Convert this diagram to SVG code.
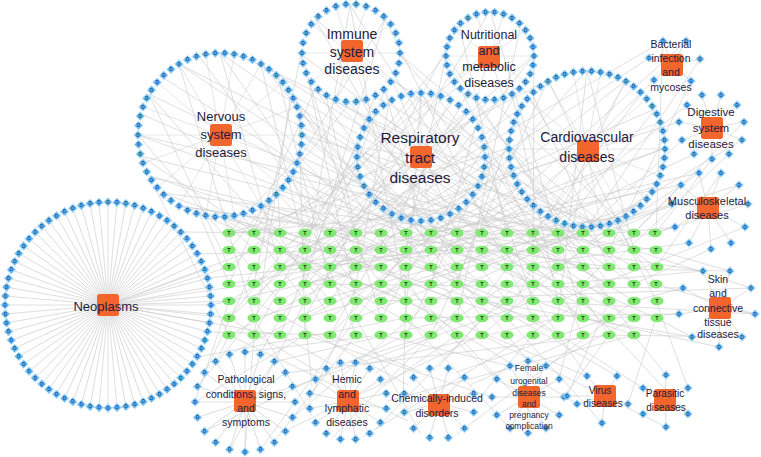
<svg xmlns="http://www.w3.org/2000/svg" width="761" height="457" viewBox="0 0 761 457">
<style>
.e{stroke:#cacaca;stroke-width:0.6;fill:none}
.e2{stroke:#d6d6d6;stroke-width:0.55;fill:none}
.hub{fill:#f2662d}
.lbl{font-family:"Liberation Sans",Arial,sans-serif;fill:#1d1b3d;text-anchor:middle}
.gl{font-family:"Liberation Sans",Arial,sans-serif;text-anchor:middle}
</style>
<defs>
<g id="dn"><path d="M0-4.3 4.3 0 0 4.3-4.3 0Z" fill="#63b5ed" stroke="#b6ddf8" stroke-width="0.9"/><text class="gl" y="1.7" font-size="4.8" font-weight="bold" fill="#1d5a9a">D</text></g>
<g id="tn"><ellipse rx="6.6" ry="4.2" fill="#80e872"/><text class="gl" y="2" font-size="5.5" font-weight="bold" fill="#1c3a14">T</text></g>
<path id="s103" d="M0 0H103"/>
<path id="s82" d="M0 0H82"/>
<path id="s78" d="M0 0H78"/>
<path id="s64" d="M0 0H64"/>
<path id="s49" d="M0 0H49"/>
<path id="s44" d="M0 0H44"/>
<path id="s50" d="M0 0H50"/>
<path id="s39" d="M0 0H39"/>
<path id="s36" d="M0 0H36"/>
</defs>
<rect width="761" height="457" fill="#ffffff"/>
<g id="connectors">
<g class="e" transform="translate(108 305)"><use href="#s103" transform="rotate(0)"/><use href="#s103" transform="rotate(5)"/><use href="#s103" transform="rotate(10)"/><use href="#s103" transform="rotate(15)"/><use href="#s103" transform="rotate(20)"/><use href="#s103" transform="rotate(25)"/><use href="#s103" transform="rotate(30)"/><use href="#s103" transform="rotate(35)"/><use href="#s103" transform="rotate(40)"/><use href="#s103" transform="rotate(45)"/><use href="#s103" transform="rotate(50)"/><use href="#s103" transform="rotate(55)"/><use href="#s103" transform="rotate(60)"/><use href="#s103" transform="rotate(65)"/><use href="#s103" transform="rotate(70)"/><use href="#s103" transform="rotate(75)"/><use href="#s103" transform="rotate(80)"/><use href="#s103" transform="rotate(85)"/><use href="#s103" transform="rotate(90)"/><use href="#s103" transform="rotate(95)"/><use href="#s103" transform="rotate(100)"/><use href="#s103" transform="rotate(105)"/><use href="#s103" transform="rotate(110)"/><use href="#s103" transform="rotate(115)"/><use href="#s103" transform="rotate(120)"/><use href="#s103" transform="rotate(125)"/><use href="#s103" transform="rotate(130)"/><use href="#s103" transform="rotate(135)"/><use href="#s103" transform="rotate(140)"/><use href="#s103" transform="rotate(145)"/><use href="#s103" transform="rotate(150)"/><use href="#s103" transform="rotate(155)"/><use href="#s103" transform="rotate(160)"/><use href="#s103" transform="rotate(165)"/><use href="#s103" transform="rotate(170)"/><use href="#s103" transform="rotate(175)"/><use href="#s103" transform="rotate(180)"/><use href="#s103" transform="rotate(185)"/><use href="#s103" transform="rotate(190)"/><use href="#s103" transform="rotate(195)"/><use href="#s103" transform="rotate(200)"/><use href="#s103" transform="rotate(205)"/><use href="#s103" transform="rotate(210)"/><use href="#s103" transform="rotate(215)"/><use href="#s103" transform="rotate(220)"/><use href="#s103" transform="rotate(225)"/><use href="#s103" transform="rotate(230)"/><use href="#s103" transform="rotate(235)"/><use href="#s103" transform="rotate(240)"/><use href="#s103" transform="rotate(245)"/><use href="#s103" transform="rotate(250)"/><use href="#s103" transform="rotate(255)"/><use href="#s103" transform="rotate(260)"/><use href="#s103" transform="rotate(265)"/><use href="#s103" transform="rotate(270)"/><use href="#s103" transform="rotate(275)"/><use href="#s103" transform="rotate(280)"/><use href="#s103" transform="rotate(285)"/><use href="#s103" transform="rotate(290)"/><use href="#s103" transform="rotate(295)"/><use href="#s103" transform="rotate(300)"/><use href="#s103" transform="rotate(305)"/><use href="#s103" transform="rotate(310)"/><use href="#s103" transform="rotate(315)"/><use href="#s103" transform="rotate(320)"/><use href="#s103" transform="rotate(325)"/><use href="#s103" transform="rotate(330)"/><use href="#s103" transform="rotate(335)"/><use href="#s103" transform="rotate(340)"/><use href="#s103" transform="rotate(345)"/><use href="#s103" transform="rotate(350)"/><use href="#s103" transform="rotate(355)"/></g>
<g class="e2" transform="translate(220 135)"><use href="#s82" transform="rotate(0)"/><use href="#s82" transform="rotate(20)"/><use href="#s82" transform="rotate(40)"/><use href="#s82" transform="rotate(60)"/><use href="#s82" transform="rotate(80)"/><use href="#s82" transform="rotate(100)"/><use href="#s82" transform="rotate(120)"/><use href="#s82" transform="rotate(140)"/><use href="#s82" transform="rotate(160)"/><use href="#s82" transform="rotate(180)"/><use href="#s82" transform="rotate(200)"/><use href="#s82" transform="rotate(220)"/><use href="#s82" transform="rotate(240)"/><use href="#s82" transform="rotate(260)"/><use href="#s82" transform="rotate(280)"/><use href="#s82" transform="rotate(300)"/><use href="#s82" transform="rotate(320)"/><use href="#s82" transform="rotate(340)"/></g>
<g class="e2" transform="translate(587 149)"><use href="#s78" transform="rotate(0)"/><use href="#s78" transform="rotate(20)"/><use href="#s78" transform="rotate(40)"/><use href="#s78" transform="rotate(60)"/><use href="#s78" transform="rotate(80)"/><use href="#s78" transform="rotate(100)"/><use href="#s78" transform="rotate(120)"/><use href="#s78" transform="rotate(140)"/><use href="#s78" transform="rotate(160)"/><use href="#s78" transform="rotate(180)"/><use href="#s78" transform="rotate(200)"/><use href="#s78" transform="rotate(220)"/><use href="#s78" transform="rotate(240)"/><use href="#s78" transform="rotate(260)"/><use href="#s78" transform="rotate(280)"/><use href="#s78" transform="rotate(300)"/><use href="#s78" transform="rotate(320)"/><use href="#s78" transform="rotate(340)"/></g>
<g class="e2" transform="translate(421 157)"><use href="#s64" transform="rotate(0)"/><use href="#s64" transform="rotate(27)"/><use href="#s64" transform="rotate(54)"/><use href="#s64" transform="rotate(81)"/><use href="#s64" transform="rotate(108)"/><use href="#s64" transform="rotate(135)"/><use href="#s64" transform="rotate(162)"/><use href="#s64" transform="rotate(189)"/><use href="#s64" transform="rotate(216)"/><use href="#s64" transform="rotate(243)"/><use href="#s64" transform="rotate(270)"/><use href="#s64" transform="rotate(297)"/><use href="#s64" transform="rotate(324)"/></g>
<g class="e2" transform="translate(351 53)"><use href="#s49" transform="rotate(0)"/><use href="#s49" transform="rotate(36)"/><use href="#s49" transform="rotate(72)"/><use href="#s49" transform="rotate(108)"/><use href="#s49" transform="rotate(144)"/><use href="#s49" transform="rotate(180)"/><use href="#s49" transform="rotate(216)"/><use href="#s49" transform="rotate(252)"/><use href="#s49" transform="rotate(288)"/><use href="#s49" transform="rotate(324)"/></g>
<g class="e2" transform="translate(490 56)"><use href="#s44" transform="rotate(0)"/><use href="#s44" transform="rotate(36)"/><use href="#s44" transform="rotate(72)"/><use href="#s44" transform="rotate(108)"/><use href="#s44" transform="rotate(144)"/><use href="#s44" transform="rotate(180)"/><use href="#s44" transform="rotate(216)"/><use href="#s44" transform="rotate(252)"/><use href="#s44" transform="rotate(288)"/><use href="#s44" transform="rotate(324)"/></g>
<g class="e" transform="translate(245 402)"><use href="#s50" transform="rotate(0)"/><use href="#s50" transform="rotate(18)"/><use href="#s50" transform="rotate(36)"/><use href="#s50" transform="rotate(54)"/><use href="#s50" transform="rotate(72)"/><use href="#s50" transform="rotate(90)"/><use href="#s50" transform="rotate(108)"/><use href="#s50" transform="rotate(126)"/><use href="#s50" transform="rotate(144)"/><use href="#s50" transform="rotate(162)"/><use href="#s50" transform="rotate(180)"/><use href="#s50" transform="rotate(198)"/><use href="#s50" transform="rotate(216)"/><use href="#s50" transform="rotate(234)"/><use href="#s50" transform="rotate(252)"/><use href="#s50" transform="rotate(270)"/><use href="#s50" transform="rotate(288)"/><use href="#s50" transform="rotate(306)"/><use href="#s50" transform="rotate(324)"/><use href="#s50" transform="rotate(342)"/></g>
<g class="e" transform="translate(348 401)"><use href="#s39" transform="rotate(11.25)"/><use href="#s39" transform="rotate(33.75)"/><use href="#s39" transform="rotate(56.25)"/><use href="#s39" transform="rotate(78.75)"/><use href="#s39" transform="rotate(101.25)"/><use href="#s39" transform="rotate(123.75)"/><use href="#s39" transform="rotate(146.25)"/><use href="#s39" transform="rotate(168.75)"/><use href="#s39" transform="rotate(191.25)"/><use href="#s39" transform="rotate(213.75)"/><use href="#s39" transform="rotate(236.25)"/><use href="#s39" transform="rotate(258.75)"/><use href="#s39" transform="rotate(281.25)"/><use href="#s39" transform="rotate(303.75)"/><use href="#s39" transform="rotate(326.25)"/><use href="#s39" transform="rotate(348.75)"/></g>
<g class="e" transform="translate(439 403)"><use href="#s36" transform="rotate(15)"/><use href="#s36" transform="rotate(45)"/><use href="#s36" transform="rotate(75)"/><use href="#s36" transform="rotate(105)"/><use href="#s36" transform="rotate(135)"/><use href="#s36" transform="rotate(165)"/><use href="#s36" transform="rotate(195)"/><use href="#s36" transform="rotate(225)"/><use href="#s36" transform="rotate(255)"/><use href="#s36" transform="rotate(285)"/><use href="#s36" transform="rotate(315)"/><use href="#s36" transform="rotate(345)"/></g>
<g class="e" transform="translate(528 397)"><use href="#s36" transform="rotate(0)"/><use href="#s36" transform="rotate(30)"/><use href="#s36" transform="rotate(60)"/><use href="#s36" transform="rotate(90)"/><use href="#s36" transform="rotate(120)"/><use href="#s36" transform="rotate(150)"/><use href="#s36" transform="rotate(180)"/><use href="#s36" transform="rotate(210)"/><use href="#s36" transform="rotate(240)"/><use href="#s36" transform="rotate(270)"/><use href="#s36" transform="rotate(300)"/><use href="#s36" transform="rotate(330)"/></g>
<path class="e" d="M672 65L663 41M672 65L686 41M672 65L649 58M672 65L700 59M672 65L654 80M672 65L691 81M712 128L702 95M712 128L721 95M712 128L737 105M712 128L744 122M712 128L742 140M712 128L729 154M712 128L712 159M712 128L694 154M712 128L682 140M712 128L679 122M712 128L687 105M708 208L699 173M708 208L721 173M708 208L681 185M708 208L739 185M708 208L672 204M708 208L748 204M708 208L675 227M708 208L745 227M708 208L689 243M708 208L711 249M708 208L731 243M720 308L703 271M720 308L730 271M720 308L683 288M720 308L751 288M720 308L679 314M720 308L755 314M720 308L692 337M720 308L742 337M720 308L719 347M605 396L587 376M605 396L617 376M605 396L628 404M605 396L602 423M605 396L577 404M605 396L567 396M665 400L666 375M665 400L688 388M665 400L688 414M665 400L666 427M665 400L643 414M665 400L643 388"/>
<path class="e" d="M302 135L482 284M291 176L583 250M261 206L330 318M220 217L431 335M179 206L356 233M149 176L507 267M138 135L280 301M149 94L609 318M179 64L457 250M220 53L381 284M261 64L533 233M291 94L634 301M278 193L558 335M299 156L406 267M299 114L305 335M278 77L482 335M149 94L229 267M179 64L254 318M220 53L583 301M261 64L305 250M291 94L431 318M302 135L634 233M149 176L229 335M138 135L406 233M179 206L609 267M220 217L254 250M261 206L507 301M291 176L356 335M278 77L330 284M299 114L558 284M299 156L656 318M278 193L280 233M241 214L457 301M199 214L229 284M141 156L381 318M141 114L533 284M162 77L431 250M199 56L356 267M241 56L609 233M162 193L482 233M302 135L583 318M291 176L457 335M261 206L634 335M220 217L533 318M179 206L482 284M149 176L381 250M138 135L558 233M149 94L330 301M179 64L609 284M220 53L280 267M261 64L431 267M291 94L254 335M278 193L356 284M299 156L229 233M241 214L305 301M199 214L406 301M162 193L507 318M141 156L583 267"/>
<path class="e" d="M399 54L583 267M385 89L330 233M350 103L229 250M315 89L482 318M301 54L254 284M315 19L609 250M350 5L406 301M385 19L533 318M375 96L280 335M326 96L634 267M392 79L457 233M308 79L356 301M350 5L305 267M385 19L254 233M301 54L558 250M534 55L381 250M521 86L656 284M490 99L305 301M459 86L583 335M446 55L229 318M459 24L507 233M490 11L330 267M521 24L457 318M512 93L254 267M468 93L609 284M446 55L634 335M534 55L280 284M399 54L634 250M385 89L431 267M350 103L507 301M315 89L229 284M301 54L381 318M315 19L457 267M350 5L558 335M385 19L305 284M375 96L609 233M326 96L356 233M392 79L656 267M308 79L482 233M534 55L533 284M521 86L381 318M490 99L634 233M459 86L254 250M446 55L406 250M459 24L305 318M490 11L583 318M521 24L229 267M512 93L558 301M468 93L330 335"/>
<path class="e" d="M485 157L229 301M466 202L280 250M421 221L634 318M376 202L583 233M357 157L507 335M376 112L254 335M421 93L558 267M466 112L330 301M476 189L406 335M453 212L229 233M389 212L656 250M366 189L482 267M366 125L609 301M389 102L356 284M453 102L280 318M476 125L431 284M357 157L305 233M421 93L254 301M485 157L609 335M366 189L431 233M665 148L406 250M655 187L305 284M626 216L229 284M587 226L356 318M548 216L280 267M519 187L229 335M509 148L330 335M519 109L457 284M548 80L254 233M587 70L381 301M626 80L507 318M655 109L330 250M642 203L431 301M532 203L305 318M532 93L609 267M642 93L482 301M587 70L558 318M509 148L634 284M626 216L533 250M548 80L656 301M485 157L533 301M466 202L609 250M421 221L330 267M376 202L254 284M357 157L457 250M376 112L634 284M421 93L406 318M466 112L229 318M476 189L280 301M453 212L583 318M665 148L280 284M655 187L482 335M626 216L381 250M587 226L254 318M548 216L609 301M519 187L406 284M509 148L229 233M519 109L305 267M548 80L431 335M587 70L634 250M626 80L330 318M655 109L558 233M642 203L356 301"/>
<path class="e" d="M108 305L229 301M108 305L229 318M108 305L254 284M108 305L229 267M108 305L280 335M108 305L254 250M211 305L381 267M207 332L330 335M207 278L482 250M197 357L406 318M197 254L356 250M181 232L305 233"/>
<path class="e" d="M245 352L381 335M274 362L457 318M216 362L229 335M293 387L533 301M195 402L305 335M205 431L406 335M285 431L482 335M260 354L280 318M230 354L330 301M285 373L609 335M274 442L356 335M245 452L254 335M348 362L431 335M363 365L558 318M333 365L280 335M376 373L507 284M320 373L229 318M387 401L634 335M309 401L356 301M384 386L457 335M312 386L305 318M439 367L482 318M457 372L609 318M421 372L330 335M470 385L583 335M408 385L254 301M403 403L406 284M475 403L533 335M528 361L507 335M546 366L634 318M510 366L381 335M559 379L583 284M497 379L431 318M492 397L305 335M587 376L558 335M617 376L457 284M567 396L609 301M628 404L656 318M587 376L280 250M666 375L634 335M643 388L533 318M688 388L656 301M195 402L229 301M197 387L280 284M205 373L254 267M293 417L431 301M260 450L406 250M230 450L305 301M333 437L482 284M363 437L583 301M312 416L254 318M376 429L533 267M457 434L634 301M421 434L356 318M408 421L229 335M546 428L457 335M510 428L406 318M564 397L609 335M602 423L507 318M577 404L381 284M688 414L583 301M666 427L482 335"/>
<path class="e" d="M683 288L634 301M679 314L609 318M703 271L558 284M692 337L482 301M730 271L533 267M679 314L406 318M683 288L305 284M755 314L656 284M751 288L634 250M672 204L609 233M675 227L583 250M689 243L507 267M681 185L431 233M699 173L356 250M711 249L634 284M675 227L280 267M748 204L656 233M745 227L558 301M682 140L583 233M694 154L457 267M679 122L330 233M687 105L507 250M712 159L656 233M654 80L482 250M649 58L381 233M691 81L609 250M663 41L305 250M703 271L457 233M730 271L656 250M751 288L381 301M755 314L533 301M742 337L609 335M719 347L583 318M692 337L656 318M672 204L305 318M681 185L583 284M699 173L482 318M721 173L656 267M739 185L533 250M744 122L634 233M742 140L558 250M729 154L609 267M700 59L583 233M686 41L457 250M663 41L656 233"/>
</g>
<g id="d-neoplasms" transform="translate(108 305)"><use href="#dn" transform="rotate(0)translate(103)rotate(0)"/><use href="#dn" transform="rotate(5)translate(103)rotate(-5)"/><use href="#dn" transform="rotate(10)translate(103)rotate(-10)"/><use href="#dn" transform="rotate(15)translate(103)rotate(-15)"/><use href="#dn" transform="rotate(20)translate(103)rotate(-20)"/><use href="#dn" transform="rotate(25)translate(103)rotate(-25)"/><use href="#dn" transform="rotate(30)translate(103)rotate(-30)"/><use href="#dn" transform="rotate(35)translate(103)rotate(-35)"/><use href="#dn" transform="rotate(40)translate(103)rotate(-40)"/><use href="#dn" transform="rotate(45)translate(103)rotate(-45)"/><use href="#dn" transform="rotate(50)translate(103)rotate(-50)"/><use href="#dn" transform="rotate(55)translate(103)rotate(-55)"/><use href="#dn" transform="rotate(60)translate(103)rotate(-60)"/><use href="#dn" transform="rotate(65)translate(103)rotate(-65)"/><use href="#dn" transform="rotate(70)translate(103)rotate(-70)"/><use href="#dn" transform="rotate(75)translate(103)rotate(-75)"/><use href="#dn" transform="rotate(80)translate(103)rotate(-80)"/><use href="#dn" transform="rotate(85)translate(103)rotate(-85)"/><use href="#dn" transform="rotate(90)translate(103)rotate(-90)"/><use href="#dn" transform="rotate(95)translate(103)rotate(-95)"/><use href="#dn" transform="rotate(100)translate(103)rotate(-100)"/><use href="#dn" transform="rotate(105)translate(103)rotate(-105)"/><use href="#dn" transform="rotate(110)translate(103)rotate(-110)"/><use href="#dn" transform="rotate(115)translate(103)rotate(-115)"/><use href="#dn" transform="rotate(120)translate(103)rotate(-120)"/><use href="#dn" transform="rotate(125)translate(103)rotate(-125)"/><use href="#dn" transform="rotate(130)translate(103)rotate(-130)"/><use href="#dn" transform="rotate(135)translate(103)rotate(-135)"/><use href="#dn" transform="rotate(140)translate(103)rotate(-140)"/><use href="#dn" transform="rotate(145)translate(103)rotate(-145)"/><use href="#dn" transform="rotate(150)translate(103)rotate(-150)"/><use href="#dn" transform="rotate(155)translate(103)rotate(-155)"/><use href="#dn" transform="rotate(160)translate(103)rotate(-160)"/><use href="#dn" transform="rotate(165)translate(103)rotate(-165)"/><use href="#dn" transform="rotate(170)translate(103)rotate(-170)"/><use href="#dn" transform="rotate(175)translate(103)rotate(-175)"/><use href="#dn" transform="rotate(180)translate(103)rotate(-180)"/><use href="#dn" transform="rotate(185)translate(103)rotate(-185)"/><use href="#dn" transform="rotate(190)translate(103)rotate(-190)"/><use href="#dn" transform="rotate(195)translate(103)rotate(-195)"/><use href="#dn" transform="rotate(200)translate(103)rotate(-200)"/><use href="#dn" transform="rotate(205)translate(103)rotate(-205)"/><use href="#dn" transform="rotate(210)translate(103)rotate(-210)"/><use href="#dn" transform="rotate(215)translate(103)rotate(-215)"/><use href="#dn" transform="rotate(220)translate(103)rotate(-220)"/><use href="#dn" transform="rotate(225)translate(103)rotate(-225)"/><use href="#dn" transform="rotate(230)translate(103)rotate(-230)"/><use href="#dn" transform="rotate(235)translate(103)rotate(-235)"/><use href="#dn" transform="rotate(240)translate(103)rotate(-240)"/><use href="#dn" transform="rotate(245)translate(103)rotate(-245)"/><use href="#dn" transform="rotate(250)translate(103)rotate(-250)"/><use href="#dn" transform="rotate(255)translate(103)rotate(-255)"/><use href="#dn" transform="rotate(260)translate(103)rotate(-260)"/><use href="#dn" transform="rotate(265)translate(103)rotate(-265)"/><use href="#dn" transform="rotate(270)translate(103)rotate(-270)"/><use href="#dn" transform="rotate(275)translate(103)rotate(-275)"/><use href="#dn" transform="rotate(280)translate(103)rotate(-280)"/><use href="#dn" transform="rotate(285)translate(103)rotate(-285)"/><use href="#dn" transform="rotate(290)translate(103)rotate(-290)"/><use href="#dn" transform="rotate(295)translate(103)rotate(-295)"/><use href="#dn" transform="rotate(300)translate(103)rotate(-300)"/><use href="#dn" transform="rotate(305)translate(103)rotate(-305)"/><use href="#dn" transform="rotate(310)translate(103)rotate(-310)"/><use href="#dn" transform="rotate(315)translate(103)rotate(-315)"/><use href="#dn" transform="rotate(320)translate(103)rotate(-320)"/><use href="#dn" transform="rotate(325)translate(103)rotate(-325)"/><use href="#dn" transform="rotate(330)translate(103)rotate(-330)"/><use href="#dn" transform="rotate(335)translate(103)rotate(-335)"/><use href="#dn" transform="rotate(340)translate(103)rotate(-340)"/><use href="#dn" transform="rotate(345)translate(103)rotate(-345)"/><use href="#dn" transform="rotate(350)translate(103)rotate(-350)"/><use href="#dn" transform="rotate(355)translate(103)rotate(-355)"/></g>
<g id="d-nervous" transform="translate(220 135)"><use href="#dn" transform="rotate(0)translate(82)rotate(0)"/><use href="#dn" transform="rotate(6.67)translate(82)rotate(-6.67)"/><use href="#dn" transform="rotate(13.33)translate(82)rotate(-13.33)"/><use href="#dn" transform="rotate(20)translate(82)rotate(-20)"/><use href="#dn" transform="rotate(26.67)translate(82)rotate(-26.67)"/><use href="#dn" transform="rotate(33.33)translate(82)rotate(-33.33)"/><use href="#dn" transform="rotate(40)translate(82)rotate(-40)"/><use href="#dn" transform="rotate(46.67)translate(82)rotate(-46.67)"/><use href="#dn" transform="rotate(53.33)translate(82)rotate(-53.33)"/><use href="#dn" transform="rotate(60)translate(82)rotate(-60)"/><use href="#dn" transform="rotate(66.67)translate(82)rotate(-66.67)"/><use href="#dn" transform="rotate(73.33)translate(82)rotate(-73.33)"/><use href="#dn" transform="rotate(80)translate(82)rotate(-80)"/><use href="#dn" transform="rotate(86.67)translate(82)rotate(-86.67)"/><use href="#dn" transform="rotate(93.33)translate(82)rotate(-93.33)"/><use href="#dn" transform="rotate(100)translate(82)rotate(-100)"/><use href="#dn" transform="rotate(106.67)translate(82)rotate(-106.67)"/><use href="#dn" transform="rotate(113.33)translate(82)rotate(-113.33)"/><use href="#dn" transform="rotate(120)translate(82)rotate(-120)"/><use href="#dn" transform="rotate(126.67)translate(82)rotate(-126.67)"/><use href="#dn" transform="rotate(133.33)translate(82)rotate(-133.33)"/><use href="#dn" transform="rotate(140)translate(82)rotate(-140)"/><use href="#dn" transform="rotate(146.67)translate(82)rotate(-146.67)"/><use href="#dn" transform="rotate(153.33)translate(82)rotate(-153.33)"/><use href="#dn" transform="rotate(160)translate(82)rotate(-160)"/><use href="#dn" transform="rotate(166.67)translate(82)rotate(-166.67)"/><use href="#dn" transform="rotate(173.33)translate(82)rotate(-173.33)"/><use href="#dn" transform="rotate(180)translate(82)rotate(-180)"/><use href="#dn" transform="rotate(186.67)translate(82)rotate(-186.67)"/><use href="#dn" transform="rotate(193.33)translate(82)rotate(-193.33)"/><use href="#dn" transform="rotate(200)translate(82)rotate(-200)"/><use href="#dn" transform="rotate(206.67)translate(82)rotate(-206.67)"/><use href="#dn" transform="rotate(213.33)translate(82)rotate(-213.33)"/><use href="#dn" transform="rotate(220)translate(82)rotate(-220)"/><use href="#dn" transform="rotate(226.67)translate(82)rotate(-226.67)"/><use href="#dn" transform="rotate(233.33)translate(82)rotate(-233.33)"/><use href="#dn" transform="rotate(240)translate(82)rotate(-240)"/><use href="#dn" transform="rotate(246.67)translate(82)rotate(-246.67)"/><use href="#dn" transform="rotate(253.33)translate(82)rotate(-253.33)"/><use href="#dn" transform="rotate(260)translate(82)rotate(-260)"/><use href="#dn" transform="rotate(266.67)translate(82)rotate(-266.67)"/><use href="#dn" transform="rotate(273.33)translate(82)rotate(-273.33)"/><use href="#dn" transform="rotate(280)translate(82)rotate(-280)"/><use href="#dn" transform="rotate(286.67)translate(82)rotate(-286.67)"/><use href="#dn" transform="rotate(293.33)translate(82)rotate(-293.33)"/><use href="#dn" transform="rotate(300)translate(82)rotate(-300)"/><use href="#dn" transform="rotate(306.67)translate(82)rotate(-306.67)"/><use href="#dn" transform="rotate(313.33)translate(82)rotate(-313.33)"/><use href="#dn" transform="rotate(320)translate(82)rotate(-320)"/><use href="#dn" transform="rotate(326.67)translate(82)rotate(-326.67)"/><use href="#dn" transform="rotate(333.33)translate(82)rotate(-333.33)"/><use href="#dn" transform="rotate(340)translate(82)rotate(-340)"/><use href="#dn" transform="rotate(346.67)translate(82)rotate(-346.67)"/><use href="#dn" transform="rotate(353.33)translate(82)rotate(-353.33)"/></g>
<g id="d-cardio" transform="translate(587 149)"><use href="#dn" transform="rotate(0)translate(78)rotate(0)"/><use href="#dn" transform="rotate(6.67)translate(78)rotate(-6.67)"/><use href="#dn" transform="rotate(13.33)translate(78)rotate(-13.33)"/><use href="#dn" transform="rotate(20)translate(78)rotate(-20)"/><use href="#dn" transform="rotate(26.67)translate(78)rotate(-26.67)"/><use href="#dn" transform="rotate(33.33)translate(78)rotate(-33.33)"/><use href="#dn" transform="rotate(40)translate(78)rotate(-40)"/><use href="#dn" transform="rotate(46.67)translate(78)rotate(-46.67)"/><use href="#dn" transform="rotate(53.33)translate(78)rotate(-53.33)"/><use href="#dn" transform="rotate(60)translate(78)rotate(-60)"/><use href="#dn" transform="rotate(66.67)translate(78)rotate(-66.67)"/><use href="#dn" transform="rotate(73.33)translate(78)rotate(-73.33)"/><use href="#dn" transform="rotate(80)translate(78)rotate(-80)"/><use href="#dn" transform="rotate(86.67)translate(78)rotate(-86.67)"/><use href="#dn" transform="rotate(93.33)translate(78)rotate(-93.33)"/><use href="#dn" transform="rotate(100)translate(78)rotate(-100)"/><use href="#dn" transform="rotate(106.67)translate(78)rotate(-106.67)"/><use href="#dn" transform="rotate(113.33)translate(78)rotate(-113.33)"/><use href="#dn" transform="rotate(120)translate(78)rotate(-120)"/><use href="#dn" transform="rotate(126.67)translate(78)rotate(-126.67)"/><use href="#dn" transform="rotate(133.33)translate(78)rotate(-133.33)"/><use href="#dn" transform="rotate(140)translate(78)rotate(-140)"/><use href="#dn" transform="rotate(146.67)translate(78)rotate(-146.67)"/><use href="#dn" transform="rotate(153.33)translate(78)rotate(-153.33)"/><use href="#dn" transform="rotate(160)translate(78)rotate(-160)"/><use href="#dn" transform="rotate(166.67)translate(78)rotate(-166.67)"/><use href="#dn" transform="rotate(173.33)translate(78)rotate(-173.33)"/><use href="#dn" transform="rotate(180)translate(78)rotate(-180)"/><use href="#dn" transform="rotate(186.67)translate(78)rotate(-186.67)"/><use href="#dn" transform="rotate(193.33)translate(78)rotate(-193.33)"/><use href="#dn" transform="rotate(200)translate(78)rotate(-200)"/><use href="#dn" transform="rotate(206.67)translate(78)rotate(-206.67)"/><use href="#dn" transform="rotate(213.33)translate(78)rotate(-213.33)"/><use href="#dn" transform="rotate(220)translate(78)rotate(-220)"/><use href="#dn" transform="rotate(226.67)translate(78)rotate(-226.67)"/><use href="#dn" transform="rotate(233.33)translate(78)rotate(-233.33)"/><use href="#dn" transform="rotate(240)translate(78)rotate(-240)"/><use href="#dn" transform="rotate(246.67)translate(78)rotate(-246.67)"/><use href="#dn" transform="rotate(253.33)translate(78)rotate(-253.33)"/><use href="#dn" transform="rotate(260)translate(78)rotate(-260)"/><use href="#dn" transform="rotate(266.67)translate(78)rotate(-266.67)"/><use href="#dn" transform="rotate(273.33)translate(78)rotate(-273.33)"/><use href="#dn" transform="rotate(280)translate(78)rotate(-280)"/><use href="#dn" transform="rotate(286.67)translate(78)rotate(-286.67)"/><use href="#dn" transform="rotate(293.33)translate(78)rotate(-293.33)"/><use href="#dn" transform="rotate(300)translate(78)rotate(-300)"/><use href="#dn" transform="rotate(306.67)translate(78)rotate(-306.67)"/><use href="#dn" transform="rotate(313.33)translate(78)rotate(-313.33)"/><use href="#dn" transform="rotate(320)translate(78)rotate(-320)"/><use href="#dn" transform="rotate(326.67)translate(78)rotate(-326.67)"/><use href="#dn" transform="rotate(333.33)translate(78)rotate(-333.33)"/><use href="#dn" transform="rotate(340)translate(78)rotate(-340)"/><use href="#dn" transform="rotate(346.67)translate(78)rotate(-346.67)"/><use href="#dn" transform="rotate(353.33)translate(78)rotate(-353.33)"/></g>
<g id="d-respiratory" transform="translate(421 157)"><use href="#dn" transform="rotate(0)translate(64)rotate(0)"/><use href="#dn" transform="rotate(9)translate(64)rotate(-9)"/><use href="#dn" transform="rotate(18)translate(64)rotate(-18)"/><use href="#dn" transform="rotate(27)translate(64)rotate(-27)"/><use href="#dn" transform="rotate(36)translate(64)rotate(-36)"/><use href="#dn" transform="rotate(45)translate(64)rotate(-45)"/><use href="#dn" transform="rotate(54)translate(64)rotate(-54)"/><use href="#dn" transform="rotate(63)translate(64)rotate(-63)"/><use href="#dn" transform="rotate(72)translate(64)rotate(-72)"/><use href="#dn" transform="rotate(81)translate(64)rotate(-81)"/><use href="#dn" transform="rotate(90)translate(64)rotate(-90)"/><use href="#dn" transform="rotate(99)translate(64)rotate(-99)"/><use href="#dn" transform="rotate(108)translate(64)rotate(-108)"/><use href="#dn" transform="rotate(117)translate(64)rotate(-117)"/><use href="#dn" transform="rotate(126)translate(64)rotate(-126)"/><use href="#dn" transform="rotate(135)translate(64)rotate(-135)"/><use href="#dn" transform="rotate(144)translate(64)rotate(-144)"/><use href="#dn" transform="rotate(153)translate(64)rotate(-153)"/><use href="#dn" transform="rotate(162)translate(64)rotate(-162)"/><use href="#dn" transform="rotate(171)translate(64)rotate(-171)"/><use href="#dn" transform="rotate(180)translate(64)rotate(-180)"/><use href="#dn" transform="rotate(189)translate(64)rotate(-189)"/><use href="#dn" transform="rotate(198)translate(64)rotate(-198)"/><use href="#dn" transform="rotate(207)translate(64)rotate(-207)"/><use href="#dn" transform="rotate(216)translate(64)rotate(-216)"/><use href="#dn" transform="rotate(225)translate(64)rotate(-225)"/><use href="#dn" transform="rotate(234)translate(64)rotate(-234)"/><use href="#dn" transform="rotate(243)translate(64)rotate(-243)"/><use href="#dn" transform="rotate(252)translate(64)rotate(-252)"/><use href="#dn" transform="rotate(261)translate(64)rotate(-261)"/><use href="#dn" transform="rotate(270)translate(64)rotate(-270)"/><use href="#dn" transform="rotate(279)translate(64)rotate(-279)"/><use href="#dn" transform="rotate(288)translate(64)rotate(-288)"/><use href="#dn" transform="rotate(297)translate(64)rotate(-297)"/><use href="#dn" transform="rotate(306)translate(64)rotate(-306)"/><use href="#dn" transform="rotate(315)translate(64)rotate(-315)"/><use href="#dn" transform="rotate(324)translate(64)rotate(-324)"/><use href="#dn" transform="rotate(333)translate(64)rotate(-333)"/><use href="#dn" transform="rotate(342)translate(64)rotate(-342)"/><use href="#dn" transform="rotate(351)translate(64)rotate(-351)"/></g>
<g id="d-immune" transform="translate(351 53)"><use href="#dn" transform="rotate(0)translate(49)rotate(0)"/><use href="#dn" transform="rotate(12)translate(49)rotate(-12)"/><use href="#dn" transform="rotate(24)translate(49)rotate(-24)"/><use href="#dn" transform="rotate(36)translate(49)rotate(-36)"/><use href="#dn" transform="rotate(48)translate(49)rotate(-48)"/><use href="#dn" transform="rotate(60)translate(49)rotate(-60)"/><use href="#dn" transform="rotate(72)translate(49)rotate(-72)"/><use href="#dn" transform="rotate(84)translate(49)rotate(-84)"/><use href="#dn" transform="rotate(96)translate(49)rotate(-96)"/><use href="#dn" transform="rotate(108)translate(49)rotate(-108)"/><use href="#dn" transform="rotate(120)translate(49)rotate(-120)"/><use href="#dn" transform="rotate(132)translate(49)rotate(-132)"/><use href="#dn" transform="rotate(144)translate(49)rotate(-144)"/><use href="#dn" transform="rotate(156)translate(49)rotate(-156)"/><use href="#dn" transform="rotate(168)translate(49)rotate(-168)"/><use href="#dn" transform="rotate(180)translate(49)rotate(-180)"/><use href="#dn" transform="rotate(192)translate(49)rotate(-192)"/><use href="#dn" transform="rotate(204)translate(49)rotate(-204)"/><use href="#dn" transform="rotate(216)translate(49)rotate(-216)"/><use href="#dn" transform="rotate(228)translate(49)rotate(-228)"/><use href="#dn" transform="rotate(240)translate(49)rotate(-240)"/><use href="#dn" transform="rotate(252)translate(49)rotate(-252)"/><use href="#dn" transform="rotate(264)translate(49)rotate(-264)"/><use href="#dn" transform="rotate(276)translate(49)rotate(-276)"/><use href="#dn" transform="rotate(288)translate(49)rotate(-288)"/><use href="#dn" transform="rotate(300)translate(49)rotate(-300)"/><use href="#dn" transform="rotate(312)translate(49)rotate(-312)"/><use href="#dn" transform="rotate(324)translate(49)rotate(-324)"/><use href="#dn" transform="rotate(336)translate(49)rotate(-336)"/><use href="#dn" transform="rotate(348)translate(49)rotate(-348)"/></g>
<g id="d-nutritional" transform="translate(490 56)"><use href="#dn" transform="rotate(0)translate(44)rotate(0)"/><use href="#dn" transform="rotate(12)translate(44)rotate(-12)"/><use href="#dn" transform="rotate(24)translate(44)rotate(-24)"/><use href="#dn" transform="rotate(36)translate(44)rotate(-36)"/><use href="#dn" transform="rotate(48)translate(44)rotate(-48)"/><use href="#dn" transform="rotate(60)translate(44)rotate(-60)"/><use href="#dn" transform="rotate(72)translate(44)rotate(-72)"/><use href="#dn" transform="rotate(84)translate(44)rotate(-84)"/><use href="#dn" transform="rotate(96)translate(44)rotate(-96)"/><use href="#dn" transform="rotate(108)translate(44)rotate(-108)"/><use href="#dn" transform="rotate(120)translate(44)rotate(-120)"/><use href="#dn" transform="rotate(132)translate(44)rotate(-132)"/><use href="#dn" transform="rotate(144)translate(44)rotate(-144)"/><use href="#dn" transform="rotate(156)translate(44)rotate(-156)"/><use href="#dn" transform="rotate(168)translate(44)rotate(-168)"/><use href="#dn" transform="rotate(180)translate(44)rotate(-180)"/><use href="#dn" transform="rotate(192)translate(44)rotate(-192)"/><use href="#dn" transform="rotate(204)translate(44)rotate(-204)"/><use href="#dn" transform="rotate(216)translate(44)rotate(-216)"/><use href="#dn" transform="rotate(228)translate(44)rotate(-228)"/><use href="#dn" transform="rotate(240)translate(44)rotate(-240)"/><use href="#dn" transform="rotate(252)translate(44)rotate(-252)"/><use href="#dn" transform="rotate(264)translate(44)rotate(-264)"/><use href="#dn" transform="rotate(276)translate(44)rotate(-276)"/><use href="#dn" transform="rotate(288)translate(44)rotate(-288)"/><use href="#dn" transform="rotate(300)translate(44)rotate(-300)"/><use href="#dn" transform="rotate(312)translate(44)rotate(-312)"/><use href="#dn" transform="rotate(324)translate(44)rotate(-324)"/><use href="#dn" transform="rotate(336)translate(44)rotate(-336)"/><use href="#dn" transform="rotate(348)translate(44)rotate(-348)"/></g>
<g id="d-pathological" transform="translate(245 402)"><use href="#dn" transform="rotate(0)translate(50)rotate(0)"/><use href="#dn" transform="rotate(18)translate(50)rotate(-18)"/><use href="#dn" transform="rotate(36)translate(50)rotate(-36)"/><use href="#dn" transform="rotate(54)translate(50)rotate(-54)"/><use href="#dn" transform="rotate(72)translate(50)rotate(-72)"/><use href="#dn" transform="rotate(90)translate(50)rotate(-90)"/><use href="#dn" transform="rotate(108)translate(50)rotate(-108)"/><use href="#dn" transform="rotate(126)translate(50)rotate(-126)"/><use href="#dn" transform="rotate(144)translate(50)rotate(-144)"/><use href="#dn" transform="rotate(162)translate(50)rotate(-162)"/><use href="#dn" transform="rotate(180)translate(50)rotate(-180)"/><use href="#dn" transform="rotate(198)translate(50)rotate(-198)"/><use href="#dn" transform="rotate(216)translate(50)rotate(-216)"/><use href="#dn" transform="rotate(234)translate(50)rotate(-234)"/><use href="#dn" transform="rotate(252)translate(50)rotate(-252)"/><use href="#dn" transform="rotate(270)translate(50)rotate(-270)"/><use href="#dn" transform="rotate(288)translate(50)rotate(-288)"/><use href="#dn" transform="rotate(306)translate(50)rotate(-306)"/><use href="#dn" transform="rotate(324)translate(50)rotate(-324)"/><use href="#dn" transform="rotate(342)translate(50)rotate(-342)"/></g>
<g id="d-hemic" transform="translate(348 401)"><use href="#dn" transform="rotate(11.25)translate(39)rotate(-11.25)"/><use href="#dn" transform="rotate(33.75)translate(39)rotate(-33.75)"/><use href="#dn" transform="rotate(56.25)translate(39)rotate(-56.25)"/><use href="#dn" transform="rotate(78.75)translate(39)rotate(-78.75)"/><use href="#dn" transform="rotate(101.25)translate(39)rotate(-101.25)"/><use href="#dn" transform="rotate(123.75)translate(39)rotate(-123.75)"/><use href="#dn" transform="rotate(146.25)translate(39)rotate(-146.25)"/><use href="#dn" transform="rotate(168.75)translate(39)rotate(-168.75)"/><use href="#dn" transform="rotate(191.25)translate(39)rotate(-191.25)"/><use href="#dn" transform="rotate(213.75)translate(39)rotate(-213.75)"/><use href="#dn" transform="rotate(236.25)translate(39)rotate(-236.25)"/><use href="#dn" transform="rotate(258.75)translate(39)rotate(-258.75)"/><use href="#dn" transform="rotate(281.25)translate(39)rotate(-281.25)"/><use href="#dn" transform="rotate(303.75)translate(39)rotate(-303.75)"/><use href="#dn" transform="rotate(326.25)translate(39)rotate(-326.25)"/><use href="#dn" transform="rotate(348.75)translate(39)rotate(-348.75)"/></g>
<g id="d-chemical" transform="translate(439 403)"><use href="#dn" transform="rotate(15)translate(36)rotate(-15)"/><use href="#dn" transform="rotate(45)translate(36)rotate(-45)"/><use href="#dn" transform="rotate(75)translate(36)rotate(-75)"/><use href="#dn" transform="rotate(105)translate(36)rotate(-105)"/><use href="#dn" transform="rotate(135)translate(36)rotate(-135)"/><use href="#dn" transform="rotate(165)translate(36)rotate(-165)"/><use href="#dn" transform="rotate(195)translate(36)rotate(-195)"/><use href="#dn" transform="rotate(225)translate(36)rotate(-225)"/><use href="#dn" transform="rotate(255)translate(36)rotate(-255)"/><use href="#dn" transform="rotate(285)translate(36)rotate(-285)"/><use href="#dn" transform="rotate(315)translate(36)rotate(-315)"/><use href="#dn" transform="rotate(345)translate(36)rotate(-345)"/></g>
<g id="d-female" transform="translate(528 397)"><use href="#dn" transform="rotate(0)translate(36)rotate(0)"/><use href="#dn" transform="rotate(30)translate(36)rotate(-30)"/><use href="#dn" transform="rotate(60)translate(36)rotate(-60)"/><use href="#dn" transform="rotate(90)translate(36)rotate(-90)"/><use href="#dn" transform="rotate(120)translate(36)rotate(-120)"/><use href="#dn" transform="rotate(150)translate(36)rotate(-150)"/><use href="#dn" transform="rotate(180)translate(36)rotate(-180)"/><use href="#dn" transform="rotate(210)translate(36)rotate(-210)"/><use href="#dn" transform="rotate(240)translate(36)rotate(-240)"/><use href="#dn" transform="rotate(270)translate(36)rotate(-270)"/><use href="#dn" transform="rotate(300)translate(36)rotate(-300)"/><use href="#dn" transform="rotate(330)translate(36)rotate(-330)"/></g>
<g id="d-bacterial"><use href="#dn" x="663" y="41"/><use href="#dn" x="686" y="41"/><use href="#dn" x="649" y="58"/><use href="#dn" x="700" y="59"/><use href="#dn" x="654" y="80"/><use href="#dn" x="691" y="81"/></g>
<g id="d-digestive"><use href="#dn" x="702" y="95"/><use href="#dn" x="721" y="95"/><use href="#dn" x="737" y="105"/><use href="#dn" x="744" y="122"/><use href="#dn" x="742" y="140"/><use href="#dn" x="729" y="154"/><use href="#dn" x="712" y="159"/><use href="#dn" x="694" y="154"/><use href="#dn" x="682" y="140"/><use href="#dn" x="679" y="122"/><use href="#dn" x="687" y="105"/></g>
<g id="d-musculoskeletal"><use href="#dn" x="699" y="173"/><use href="#dn" x="721" y="173"/><use href="#dn" x="681" y="185"/><use href="#dn" x="739" y="185"/><use href="#dn" x="672" y="204"/><use href="#dn" x="748" y="204"/><use href="#dn" x="675" y="227"/><use href="#dn" x="745" y="227"/><use href="#dn" x="689" y="243"/><use href="#dn" x="711" y="249"/><use href="#dn" x="731" y="243"/></g>
<g id="d-skin"><use href="#dn" x="703" y="271"/><use href="#dn" x="730" y="271"/><use href="#dn" x="683" y="288"/><use href="#dn" x="751" y="288"/><use href="#dn" x="679" y="314"/><use href="#dn" x="755" y="314"/><use href="#dn" x="692" y="337"/><use href="#dn" x="742" y="337"/><use href="#dn" x="719" y="347"/></g>
<g id="d-virus"><use href="#dn" x="587" y="376"/><use href="#dn" x="617" y="376"/><use href="#dn" x="628" y="404"/><use href="#dn" x="602" y="423"/><use href="#dn" x="577" y="404"/><use href="#dn" x="567" y="396"/></g>
<g id="d-parasitic"><use href="#dn" x="666" y="375"/><use href="#dn" x="688" y="388"/><use href="#dn" x="688" y="414"/><use href="#dn" x="666" y="427"/><use href="#dn" x="643" y="414"/><use href="#dn" x="643" y="388"/></g>
<g id="targets">
<g transform="translate(0 233)"><use href="#tn" x="229"/><use href="#tn" x="254"/><use href="#tn" x="280"/><use href="#tn" x="305"/><use href="#tn" x="330"/><use href="#tn" x="356"/><use href="#tn" x="381"/><use href="#tn" x="406"/><use href="#tn" x="431"/><use href="#tn" x="457"/><use href="#tn" x="482"/><use href="#tn" x="507"/><use href="#tn" x="533"/><use href="#tn" x="558"/><use href="#tn" x="583"/><use href="#tn" x="609"/><use href="#tn" x="634"/><use href="#tn" x="655"/></g>
<g transform="translate(0 250)"><use href="#tn" x="229"/><use href="#tn" x="254"/><use href="#tn" x="280"/><use href="#tn" x="305"/><use href="#tn" x="330"/><use href="#tn" x="356"/><use href="#tn" x="381"/><use href="#tn" x="406"/><use href="#tn" x="431"/><use href="#tn" x="457"/><use href="#tn" x="482"/><use href="#tn" x="507"/><use href="#tn" x="533"/><use href="#tn" x="558"/><use href="#tn" x="583"/><use href="#tn" x="609"/><use href="#tn" x="634"/><use href="#tn" x="656"/></g>
<g transform="translate(0 267)"><use href="#tn" x="229"/><use href="#tn" x="254"/><use href="#tn" x="280"/><use href="#tn" x="305"/><use href="#tn" x="330"/><use href="#tn" x="356"/><use href="#tn" x="381"/><use href="#tn" x="406"/><use href="#tn" x="431"/><use href="#tn" x="457"/><use href="#tn" x="482"/><use href="#tn" x="507"/><use href="#tn" x="533"/><use href="#tn" x="558"/><use href="#tn" x="583"/><use href="#tn" x="609"/><use href="#tn" x="634"/><use href="#tn" x="657"/></g>
<g transform="translate(0 284)"><use href="#tn" x="229"/><use href="#tn" x="254"/><use href="#tn" x="280"/><use href="#tn" x="305"/><use href="#tn" x="330"/><use href="#tn" x="356"/><use href="#tn" x="381"/><use href="#tn" x="406"/><use href="#tn" x="431"/><use href="#tn" x="457"/><use href="#tn" x="482"/><use href="#tn" x="507"/><use href="#tn" x="533"/><use href="#tn" x="558"/><use href="#tn" x="583"/><use href="#tn" x="609"/><use href="#tn" x="634"/><use href="#tn" x="656"/></g>
<g transform="translate(0 301)"><use href="#tn" x="229"/><use href="#tn" x="254"/><use href="#tn" x="280"/><use href="#tn" x="305"/><use href="#tn" x="330"/><use href="#tn" x="356"/><use href="#tn" x="381"/><use href="#tn" x="406"/><use href="#tn" x="431"/><use href="#tn" x="457"/><use href="#tn" x="482"/><use href="#tn" x="507"/><use href="#tn" x="533"/><use href="#tn" x="558"/><use href="#tn" x="583"/><use href="#tn" x="609"/><use href="#tn" x="634"/><use href="#tn" x="657"/></g>
<g transform="translate(0 318)"><use href="#tn" x="229"/><use href="#tn" x="254"/><use href="#tn" x="280"/><use href="#tn" x="305"/><use href="#tn" x="330"/><use href="#tn" x="356"/><use href="#tn" x="381"/><use href="#tn" x="406"/><use href="#tn" x="431"/><use href="#tn" x="457"/><use href="#tn" x="482"/><use href="#tn" x="507"/><use href="#tn" x="533"/><use href="#tn" x="558"/><use href="#tn" x="583"/><use href="#tn" x="609"/><use href="#tn" x="634"/><use href="#tn" x="657"/></g>
<g transform="translate(0 335)"><use href="#tn" x="229"/><use href="#tn" x="254"/><use href="#tn" x="280"/><use href="#tn" x="305"/><use href="#tn" x="330"/><use href="#tn" x="356"/><use href="#tn" x="381"/><use href="#tn" x="406"/><use href="#tn" x="431"/><use href="#tn" x="457"/><use href="#tn" x="482"/><use href="#tn" x="507"/><use href="#tn" x="533"/><use href="#tn" x="558"/><use href="#tn" x="583"/><use href="#tn" x="609"/><use href="#tn" x="634"/></g>
</g>
<g id="neoplasms"><rect class="hub" x="97" y="294" width="22" height="22" rx="2.5"/><text class="lbl" x="106" y="310.5" font-size="13">Neoplasms</text></g>
<g id="nervous"><rect class="hub" x="210" y="124" width="22" height="22" rx="2.5"/><text class="lbl" font-size="13"><tspan x="221" y="121">Nervous</tspan><tspan x="221" y="139">system</tspan><tspan x="221" y="157">diseases</tspan></text></g>
<g id="immune"><rect class="hub" x="341" y="40" width="22" height="22" rx="2.5"/><text class="lbl" font-size="14"><tspan x="352" y="39">Immune</tspan><tspan x="352" y="57">system</tspan><tspan x="352" y="74">diseases</tspan></text></g>
<g id="nutritional"><rect class="hub" x="478" y="46" width="22" height="22" rx="2.5"/><text class="lbl" font-size="12.5"><tspan x="489" y="38.5">Nutritional</tspan><tspan x="489" y="54.5">and</tspan><tspan x="489" y="70.5">metabolic</tspan><tspan x="489" y="87">diseases</tspan></text></g>
<g id="respiratory"><rect class="hub" x="410" y="146" width="22" height="22" rx="2.5"/><text class="lbl" font-size="15.5"><tspan x="420" y="142.5">Respiratory</tspan><tspan x="420" y="162.5">tract</tspan><tspan x="420" y="183">diseases</tspan></text></g>
<g id="cardiovascular"><rect class="hub" x="577" y="140" width="22" height="22" rx="2.5"/><text class="lbl" font-size="14"><tspan x="587" y="142">Cardiovascular</tspan><tspan x="587" y="161.5">diseases</tspan></text></g>
<g id="bacterial"><rect class="hub" x="661" y="54" width="22" height="22" rx="2.5"/><text class="lbl" font-size="10.5"><tspan x="671" y="47.5">Bacterial</tspan><tspan x="671" y="62">infection</tspan><tspan x="671" y="76">and</tspan><tspan x="671" y="90.5">mycoses</tspan></text></g>
<g id="digestive"><rect class="hub" x="701" y="117" width="22" height="22" rx="2.5"/><text class="lbl" font-size="11.5"><tspan x="711" y="116">Digestive</tspan><tspan x="711" y="132">system</tspan><tspan x="711" y="148">diseases</tspan></text></g>
<g id="musculoskeletal"><rect class="hub" x="697" y="197" width="22" height="22" rx="2.5"/><text class="lbl" font-size="11"><tspan x="707" y="205">Musculoskeletal</tspan><tspan x="707" y="219">diseases</tspan></text></g>
<g id="skin"><rect class="hub" x="709" y="297" width="22" height="22" rx="2.5"/><text class="lbl" font-size="10.5"><tspan x="718" y="283">Skin</tspan><tspan x="718" y="297">and</tspan><tspan x="718" y="312">connective</tspan><tspan x="718" y="326">tissue</tspan><tspan x="718" y="338">diseases</tspan></text></g>
<g id="pathological"><rect class="hub" x="234" y="390" width="22" height="22" rx="2.5"/><text class="lbl" font-size="10.5"><tspan x="246" y="383">Pathological</tspan><tspan x="246" y="398">conditions, signs,</tspan><tspan x="246" y="412">and</tspan><tspan x="246" y="426">symptoms</tspan></text></g>
<g id="hemic"><rect class="hub" x="337" y="390" width="22" height="22" rx="2.5"/><text class="lbl" font-size="10.5"><tspan x="347" y="383">Hemic</tspan><tspan x="347" y="398">and</tspan><tspan x="347" y="412">lymphatic</tspan><tspan x="347" y="426">diseases</tspan></text></g>
<g id="chemical"><rect class="hub" x="428" y="394" width="22" height="22" rx="2.5"/><text class="lbl" font-size="10.5"><tspan x="437" y="402">Chemically-induced</tspan><tspan x="437" y="417">disorders</tspan></text></g>
<g id="female"><rect class="hub" x="518" y="386" width="22" height="22" rx="2.5"/><text class="lbl" font-size="8.5"><tspan x="529" y="371">Female</tspan><tspan x="529" y="384">urogenital</tspan><tspan x="529" y="395.5">diseases</tspan><tspan x="529" y="406.5">and</tspan><tspan x="529" y="417.5">pregnancy</tspan><tspan x="529" y="429">complication</tspan></text></g>
<g id="virus"><rect class="hub" x="594" y="385" width="22" height="22" rx="2.5"/><text class="lbl" font-size="10"><tspan x="600" y="393.5">Virus</tspan><tspan x="603" y="407">diseases</tspan></text></g>
<g id="parasitic"><rect class="hub" x="654" y="389" width="22" height="22" rx="2.5"/><text class="lbl" font-size="10"><tspan x="665" y="397">Parasitic</tspan><tspan x="666" y="410.5">diseases</tspan></text></g>
</svg>
